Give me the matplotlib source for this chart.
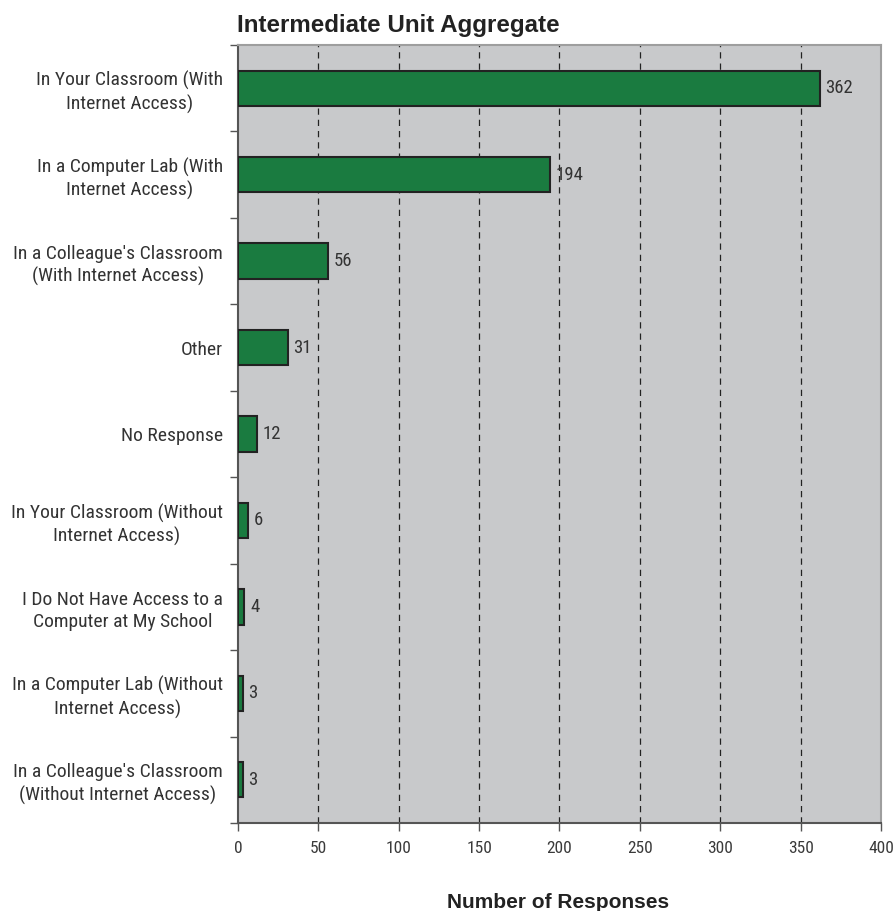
import matplotlib
matplotlib.use("Agg")
import matplotlib.pyplot as plt
from matplotlib import font_manager

categories = [
    "In Your Classroom (With\nInternet Access)",
    "In a Computer Lab (With\nInternet Access)",
    "In a Colleague's Classroom\n(With Internet Access)",
    "Other",
    "No Response",
    "In Your Classroom (Without\nInternet Access)",
    "I Do Not Have Access to a\nComputer at My School",
    "In a Computer Lab (Without\nInternet Access)",
    "In a Colleague's Classroom\n(Without Internet Access)",
]
responses = [362, 194, 56, 31, 12, 6, 4, 3, 3]
x_ticks = [0, 50, 100, 150, 200, 250, 300, 350, 400]

available = {f.name for f in font_manager.fontManager.ttflist}
narrow = next((name for name in ["Roboto Condensed", "Archivo Narrow", "PT Sans Narrow",
                                 "Liberation Sans Narrow", "Pragati Narrow",
                                 "Encode Sans Condensed", "Liberation Sans"]
               if name in available), "DejaVu Sans")
text_weight = "normal"
text_color = "#333333"

fig = plt.figure(figsize=(8.93, 9.11), dpi=100)
ax = fig.add_axes([0.2665, 0.0966, 0.72, 0.854])
ax.set_facecolor("#c8c9cb")

n = len(categories)
ypos = list(range(n))
ax.barh(ypos, responses, height=0.41, color="#1a7b40", edgecolor="#222222",
        linewidth=1.5, zorder=3)

for y, v in zip(ypos, responses):
    ax.text(v + 3.5, y, str(v), va="center", ha="left", fontsize=13.5,
            family=narrow, fontweight=text_weight, color=text_color, zorder=4)

ax.set_xlim(0, 400)
ax.set_ylim(n - 0.5, -0.5)
ax.set_xticks(x_ticks)
ax.set_xticklabels([str(t) for t in x_ticks], family=narrow, fontweight=text_weight,
                   fontsize=12.5, color="#3a3a3a")
for t in x_ticks[1:-1]:
    ax.axvline(t, color="#222222", linestyle=(0, (5, 4)), linewidth=0.9, zorder=1)

# Category labels centred on bars, tick marks on the boundaries between them
ax.set_yticks(ypos)
ax.set_yticklabels(categories, family=narrow, fontweight=text_weight, fontsize=14,
                   color=text_color, linespacing=1.3, multialignment="center")
ax.tick_params(axis="y", which="major", length=0, pad=11)
ax.set_yticks([y - 0.5 for y in ypos] + [n - 0.5], minor=True)
ax.tick_params(axis="y", which="minor", length=6, color="#555555", width=1)
ax.tick_params(axis="x", length=6, color="#555555", width=1, pad=7)

for side in ("top", "right"):
    ax.spines[side].set_color("#9e9e9e")
    ax.spines[side].set_linewidth(1.5)
for side in ("left", "bottom"):
    ax.spines[side].set_color("#555555")
    ax.spines[side].set_linewidth(1.5)

fig.text(0.2655, 1 - 32 / 911, "Intermediate Unit Aggregate", fontsize=17.4,
         fontweight="bold", family="Liberation Sans", ha="left", va="baseline",
         color="#222222")
fig.text(0.625, 3 / 911, "Number of Responses", fontsize=15, fontweight="bold",
         family="Liberation Sans", ha="center", va="baseline", color="#222222")

fig.savefig("out.png", dpi=100)
